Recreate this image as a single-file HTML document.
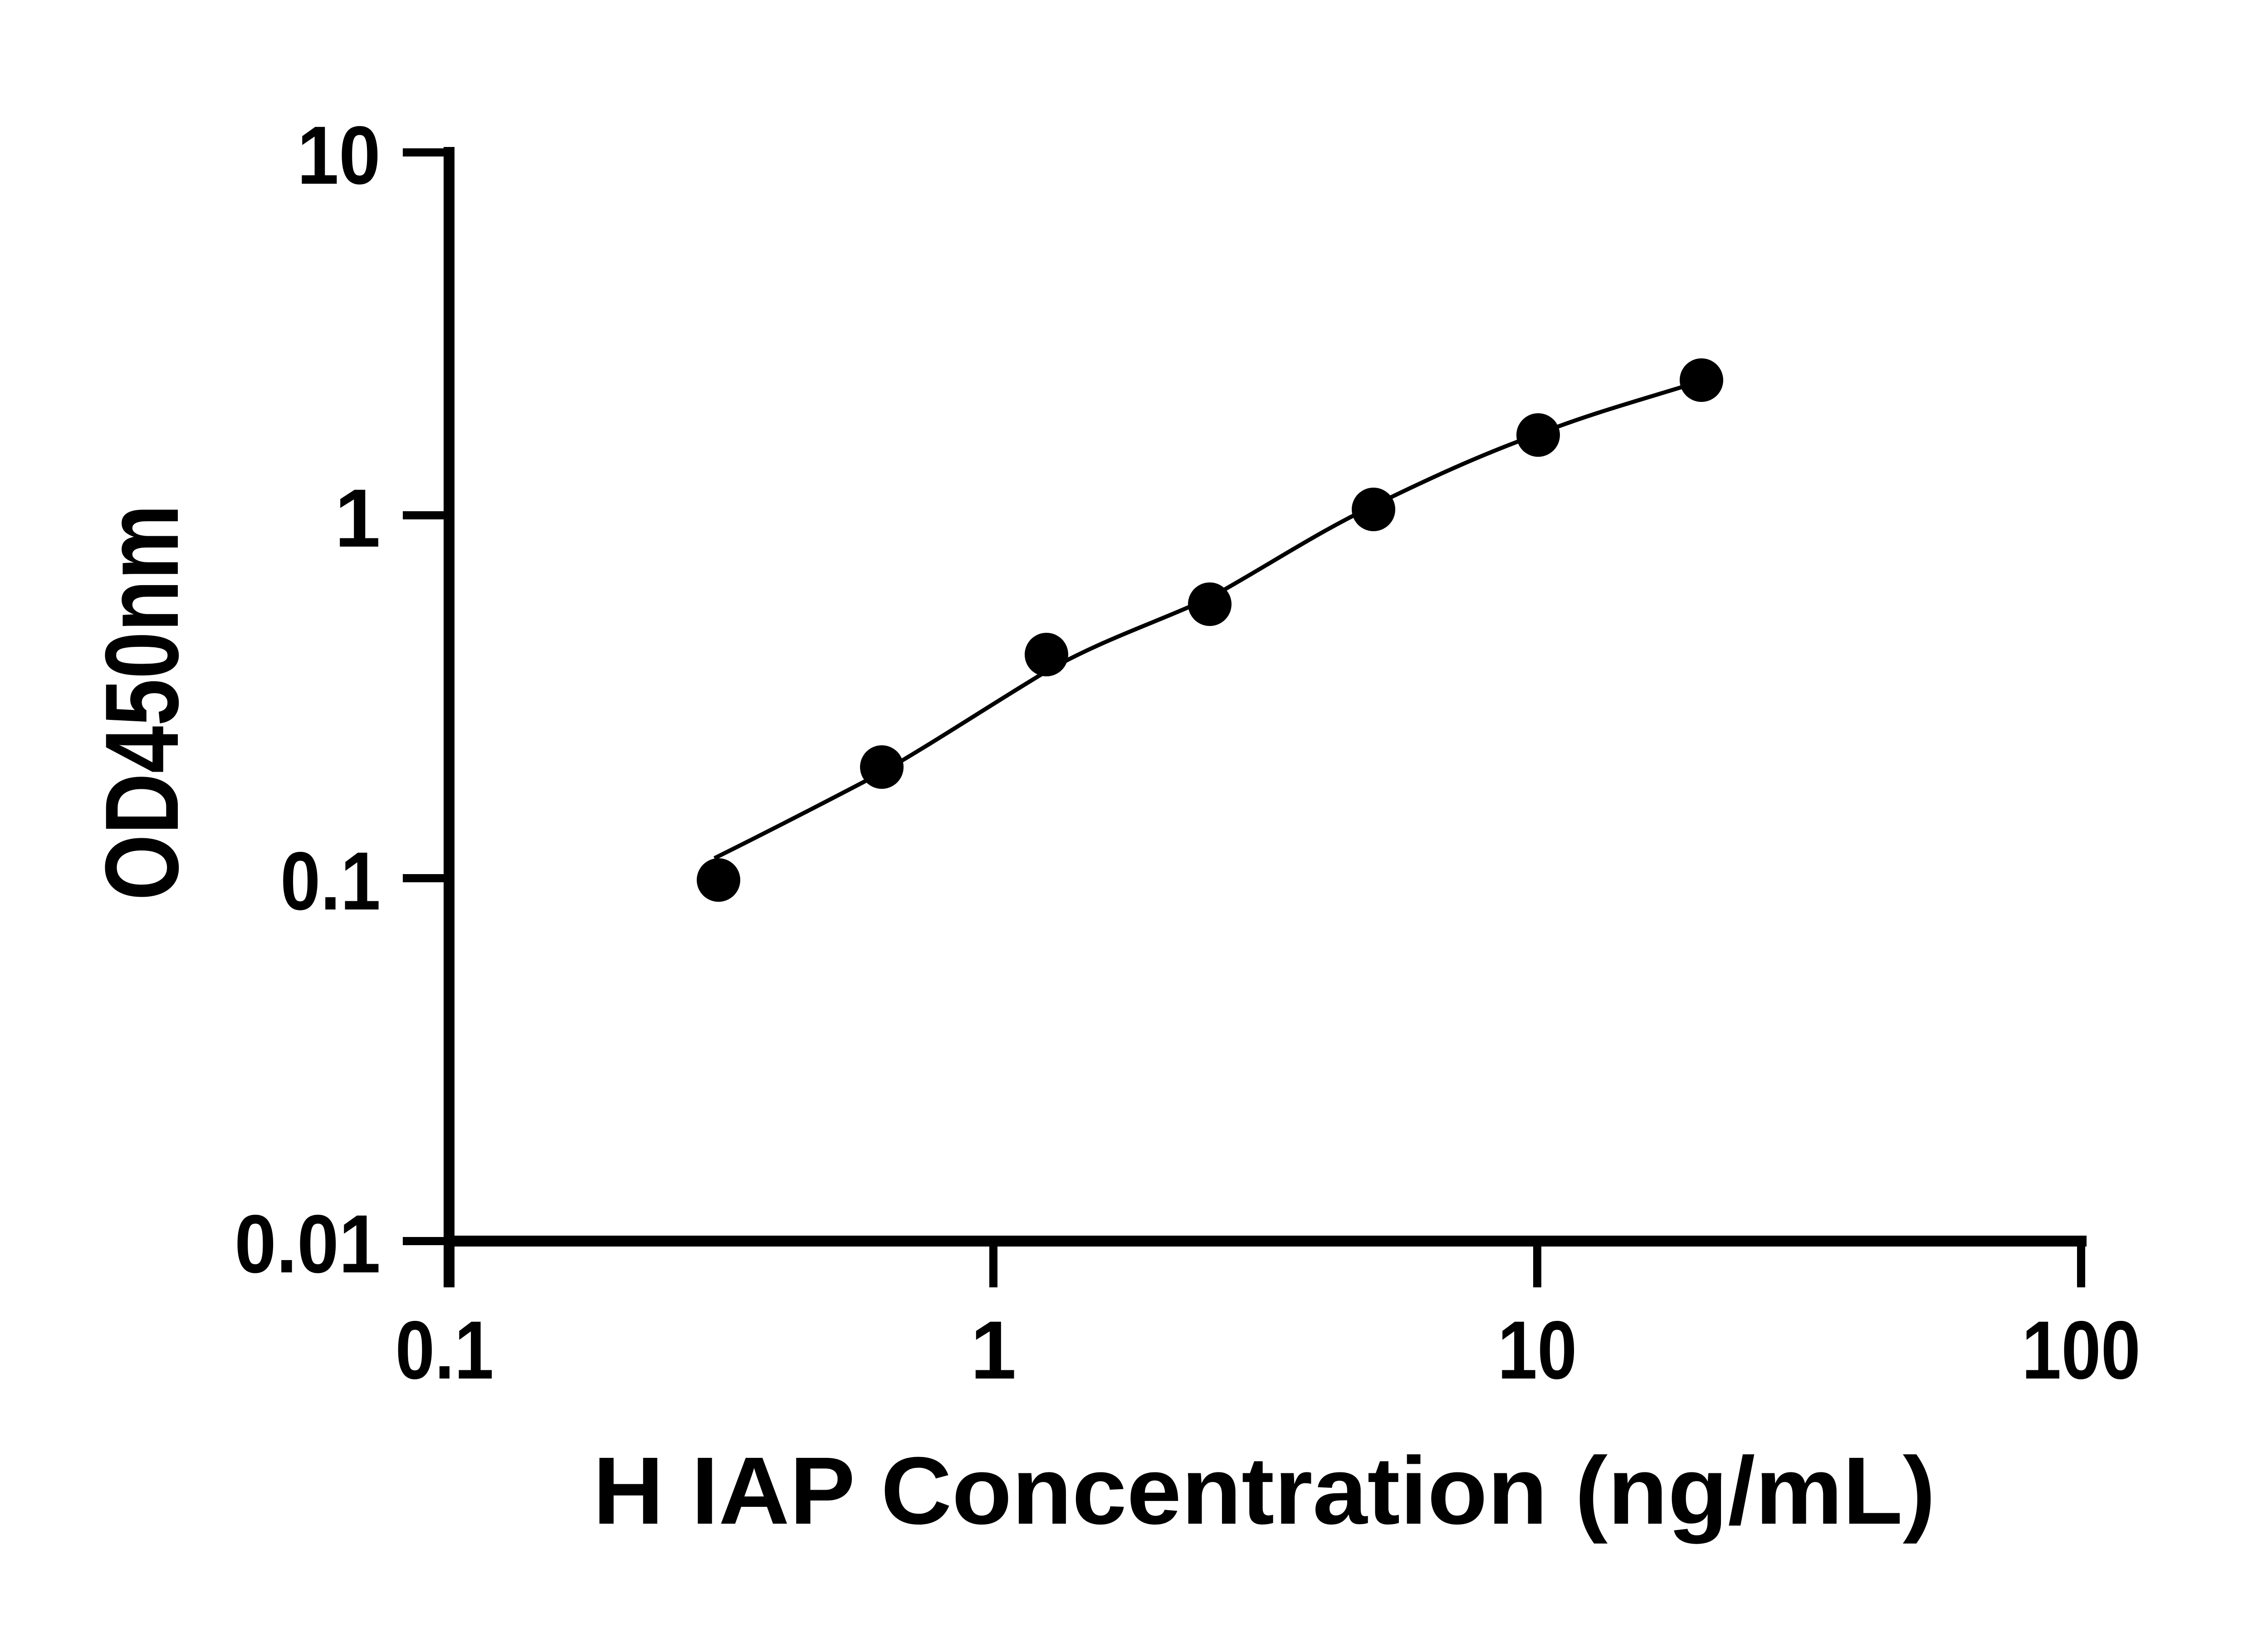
<!DOCTYPE html>
<html><head><meta charset="utf-8"><style>html,body{margin:0;padding:0;background:#fff}svg{display:block}</style></head>
<body>
<svg width="5142" height="3600" viewBox="0 0 5142 3600" xmlns="http://www.w3.org/2000/svg">
<rect width="5142" height="3600" fill="#fff"/>
<g stroke="#000" fill="none">
<line x1="990" y1="324" x2="990" y2="2838" stroke-width="24"/>
<line x1="978" y1="2736" x2="4600" y2="2736" stroke-width="24"/>
<g stroke-width="18">
<line x1="888" y1="336" x2="990" y2="336"/>
<line x1="888" y1="1136" x2="990" y2="1136"/>
<line x1="888" y1="1936" x2="990" y2="1936"/>
<line x1="888" y1="2736" x2="990" y2="2736"/>
<line x1="2190" y1="2736" x2="2190" y2="2838"/>
<line x1="3389" y1="2736" x2="3389" y2="2838"/>
<line x1="4588" y1="2736" x2="4588" y2="2838"/>
</g>
<path d="M1575,1892 C1700,1830 1820,1768 1944,1703 C2070,1630 2190,1550 2307,1480 C2430,1410 2550,1372 2667,1318 C2790,1250 2910,1170 3028,1115 C3150,1055 3270,1000 3391,957 C3510,910 3630,878 3751,840" stroke-width="9"/>
</g>
<g fill="#000">
<circle cx="1584" cy="1940" r="48"/>
<circle cx="1944" cy="1691" r="48"/>
<circle cx="2307" cy="1443" r="48"/>
<circle cx="2667" cy="1332" r="48"/>
<circle cx="3028" cy="1123" r="48"/>
<circle cx="3391" cy="959" r="48"/>
<circle cx="3751" cy="838" r="48"/>
</g>
<g font-family="Liberation Sans, sans-serif" font-weight="bold" fill="#000" font-size="182">
<text x="839" y="405" text-anchor="end" textLength="184" lengthAdjust="spacingAndGlyphs">10</text>
<text x="839" y="1205" text-anchor="end">1</text>
<text x="839" y="2005" text-anchor="end" textLength="221" lengthAdjust="spacingAndGlyphs">0.1</text>
<text x="839" y="2805" text-anchor="end" textLength="322" lengthAdjust="spacingAndGlyphs">0.01</text>
<text x="980" y="3039" text-anchor="middle" textLength="217" lengthAdjust="spacingAndGlyphs">0.1</text>
<text x="2190" y="3039" text-anchor="middle">1</text>
<text x="3389" y="3039" text-anchor="middle" textLength="175" lengthAdjust="spacingAndGlyphs">10</text>
<text x="4588" y="3039" text-anchor="middle" textLength="262" lengthAdjust="spacingAndGlyphs">100</text>
<text x="1307" y="3359" font-size="211" textLength="2960" lengthAdjust="spacingAndGlyphs">H IAP Concentration (ng/mL)</text>
<text transform="translate(392,1985) rotate(-90)" font-size="230" textLength="873" lengthAdjust="spacingAndGlyphs">OD450nm</text>
</g>
</svg>
</body></html>
